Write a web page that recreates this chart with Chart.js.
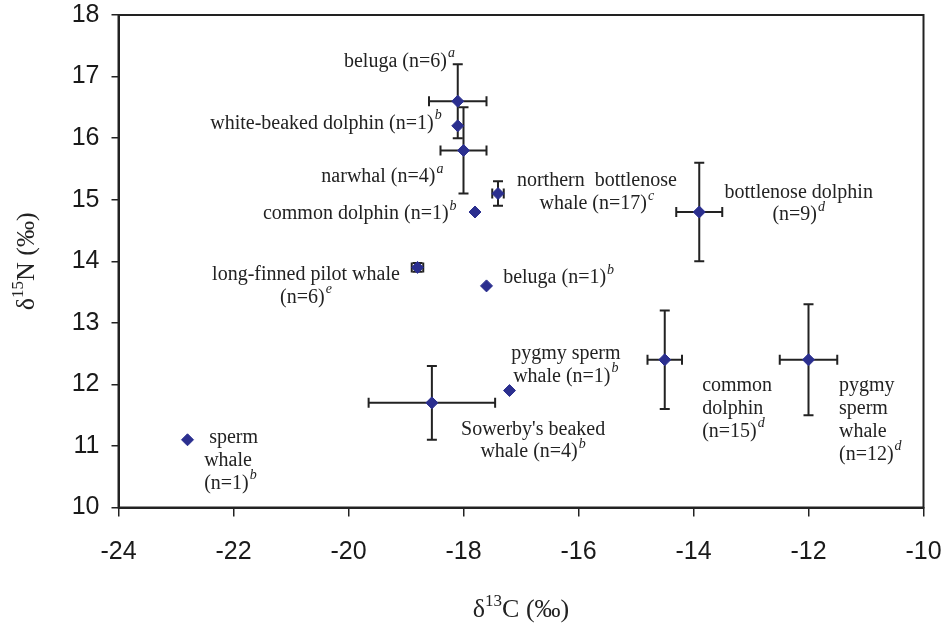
<!DOCTYPE html>
<html>
<head>
<meta charset="utf-8">
<script src="https://cdn.jsdelivr.net/npm/chart.js@4.4.1/dist/chart.umd.min.js"></script>
<style>
  body { margin: 0; background: #fff; }
  canvas { display: block; }
</style>
</head>
<body>
<canvas id="isoChart" width="945" height="623"></canvas>
<script>
// species means and SD
var species = ['beluga (n=6)', 'white-beaked dolphin (n=1)', 'narwhal (n=4)', 'northern bottlenose whale (n=17)',
               'common dolphin (n=1)', 'long-finned pilot whale (n=6)', 'beluga (n=1)', "Sowerby's beaked whale (n=4)",
               'pygmy sperm whale (n=1)', 'bottlenose dolphin (n=9)', 'common dolphin (n=15)', 'pygmy sperm whale (n=12)',
               'sperm whale (n=1)'];
var d13C = [-18.1, -18.1, -18.0, -17.4, -17.8, -18.8, -17.6, -18.55, -17.2, -13.9, -14.5, -12.0, -22.8];
var d15N = [16.6, 16.2, 15.8, 15.1, 14.8, 13.9, 13.6, 11.7, 11.9, 14.8, 12.4, 12.4, 11.1];
var sdC  = [0.5, 0, 0.4, 0.1, 0, 0.1, 0, 1.1, 0, 0.4, 0.3, 0.5, 0];
var sdN  = [0.6, 0, 0.7, 0.2, 0, 0.07, 0, 0.6, 0, 0.8, 0.8, 0.9, 0];
var xTicks = [-24, -22, -20, -18, -16, -14, -12, -10];
var yTicks = [10, 11, 12, 13, 14, 15, 16, 17, 18];

// text labels beside the points (anchor in data units, first line centre)
var notes = [
  { x: -18.15, y: 17.24, align: 'right',  lines: [['beluga (n=6)', 'a']] },
  { x: -18.38, y: 16.24, align: 'right',  lines: [['white-beaked dolphin (n=1)', 'b']] },
  { x: -18.35, y: 15.37, align: 'right',  lines: [['narwhal (n=4)', 'a']] },
  { x: -18.12, y: 14.77, align: 'right',  lines: [['common dolphin (n=1)', 'b']] },
  { x: -20.74, y: 13.78, align: 'center', lines: [['long-finned pilot whale', ''], ['(n=6)', 'e']] },
  { x: -17.31, y: 13.73, align: 'left',   lines: [['beluga (n=1)', 'b']] },
  { x: -15.68, y: 15.30, align: 'center', lines: [['northern  bottlenose', ''], ['whale (n=17)', 'c']] },
  { x: -12.17, y: 15.12, align: 'center', lines: [['bottlenose dolphin', ''], ['(n=9)', 'd']] },
  { x: -16.22, y: 12.50, align: 'center', lines: [['pygmy sperm', ''], ['whale (n=1)', 'b']] },
  { x: -16.79, y: 11.27, align: 'center', lines: [["Sowerby's beaked", ''], ['whale (n=4)', 'b']] },
  { x: -13.85, y: 11.97, align: 'left',   lines: [['common', ''], ['dolphin', ''], ['(n=15)', 'd']] },
  { x: -11.47, y: 11.97, align: 'left',   lines: [['pygmy', ''], ['sperm', ''], ['whale', ''], ['(n=12)', 'd']] },
  { x: -22.51, y: 11.13, align: 'left',   lines: [[' sperm', ''], ['whale', ''], ['(n=1)', 'b']] }
];

var ink = '#222222';
var serif = '"Liberation Serif", "Times New Roman", serif';

var points = [];
for (let i = 0; i < species.length; i++) {
  points.push({ x: d13C[i], y: d15N[i] });
}

var errorBars = {
  id: 'errorBars',
  beforeDatasetsDraw(chart) {
    var ctx = chart.ctx, xs = chart.scales.x, ys = chart.scales.y;
    var cap = 5;
    ctx.save();
    ctx.strokeStyle = ink;
    ctx.lineWidth = 2;
    for (let i = 0; i < species.length; i++) {
      var cx = xs.getPixelForValue(d13C[i]);
      var cy = ys.getPixelForValue(d15N[i]);
      if (sdC[i] > 0) {
        var x0 = xs.getPixelForValue(d13C[i] - sdC[i]);
        var x1 = xs.getPixelForValue(d13C[i] + sdC[i]);
        ctx.beginPath();
        ctx.moveTo(x0, cy); ctx.lineTo(x1, cy);
        ctx.moveTo(x0, cy - cap); ctx.lineTo(x0, cy + cap);
        ctx.moveTo(x1, cy - cap); ctx.lineTo(x1, cy + cap);
        ctx.stroke();
      }
      if (sdN[i] > 0) {
        var y0 = ys.getPixelForValue(d15N[i] - sdN[i]);
        var y1 = ys.getPixelForValue(d15N[i] + sdN[i]);
        ctx.beginPath();
        ctx.moveTo(cx, y0); ctx.lineTo(cx, y1);
        ctx.moveTo(cx - cap, y0); ctx.lineTo(cx + cap, y0);
        ctx.moveTo(cx - cap, y1); ctx.lineTo(cx + cap, y1);
        ctx.stroke();
      }
    }
    ctx.restore();
  },
  afterDraw(chart) {
    var ctx = chart.ctx, xs = chart.scales.x, ys = chart.scales.y, a = chart.chartArea;
    ctx.save();
    // frame
    ctx.strokeStyle = ink;
    ctx.lineWidth = 2;
    ctx.strokeRect(a.left, a.top, a.right - a.left, a.bottom - a.top);

    // point labels
    ctx.fillStyle = ink;
    ctx.textBaseline = 'middle';
    var lineGap = 22.7;
    notes.forEach(function (n) {
      var px = xs.getPixelForValue(n.x);
      var py = ys.getPixelForValue(n.y);
      n.lines.forEach(function (ln, k) {
        ctx.font = '20px ' + serif;
        var w1 = ctx.measureText(ln[0]).width;
        ctx.font = 'italic 14px ' + serif;
        var w2 = ln[1] ? ctx.measureText(ln[1]).width + 1 : 0;
        var w = w1 + w2;
        var left = n.align === 'left' ? px : n.align === 'right' ? px - w : px - w / 2;
        var y = py + k * lineGap;
        ctx.textAlign = 'left';
        ctx.font = '20px ' + serif;
        ctx.fillText(ln[0], left, y);
        if (ln[1]) {
          ctx.font = 'italic 14px ' + serif;
          ctx.fillText(ln[1], left + w1 + 1, y - 8);
        }
      });
    });

    // axis titles with superscripts
    function title(cx, cy, rot, sup) {
      ctx.save();
      ctx.translate(cx, cy);
      ctx.rotate(rot);
      ctx.font = '26px ' + serif;
      var wA = ctx.measureText('\u03B4').width;
      var wC = ctx.measureText(sup[1]).width;
      ctx.font = '17px ' + serif;
      var wB = ctx.measureText(sup[0]).width;
      var x = -(wA + wB + wC) / 2;
      ctx.textAlign = 'left';
      ctx.textBaseline = 'middle';
      ctx.font = '26px ' + serif;
      ctx.fillText('\u03B4', x, 0);
      ctx.font = '17px ' + serif;
      ctx.fillText(sup[0], x + wA, -8);
      ctx.font = '26px ' + serif;
      ctx.fillText(sup[1], x + wA + wB, 0);
      ctx.restore();
    }
    title((a.left + a.right) / 2, 610, 0, ['13', 'C (\u2030)']);
    title(27, (a.top + a.bottom) / 2, -Math.PI / 2, ['15', 'N (\u2030)']);
    ctx.restore();
  }
};

var ctx = document.getElementById('isoChart').getContext('2d');

var options = {
  responsive: false,
  maintainAspectRatio: false,
  animation: false,
  layout: { padding: { top: 15, right: 21.5, left: 0, bottom: 0 } },
  plugins: { legend: { display: false }, tooltip: { enabled: false } },
  scales: {
    x: {
      type: 'linear',
      min: -24, max: -10,
      afterBuildTicks: function (s) { s.ticks = xTicks.map(v => ({ value: v })); },
      afterFit: function (s) { s.height = 115.5; s.paddingLeft = 0; s.paddingRight = 0; },
      grid: { drawOnChartArea: false, drawTicks: true, tickLength: 9, color: ink, lineWidth: 1.5 },
      border: { display: true, color: ink, width: 2 },
      ticks: { color: '#1a1a1a', padding: 21, font: { family: '"Liberation Sans", Arial, sans-serif', size: 25 } }
    },
    y: {
      type: 'linear',
      min: 10, max: 18,
      afterBuildTicks: function (s) { s.ticks = yTicks.map(v => ({ value: v })); },
      afterFit: function (s) { s.width = 118.5; s.paddingTop = 0; s.paddingBottom = 0; },
      grid: { drawOnChartArea: false, drawTicks: true, tickLength: 7, color: ink, lineWidth: 1.5 },
      border: { display: true, color: ink, width: 2 },
      ticks: { color: '#1a1a1a', padding: 12, font: { family: '"Liberation Sans", Arial, sans-serif', size: 25 } }
    }
  }
};

new Chart(ctx, {
  type: 'scatter',
  data: {
    datasets: [{
      label: 'species',
      data: points,
      pointStyle: 'rectRot',
      pointRadius: 6,
      pointBorderWidth: 1,
      backgroundColor: '#2B2F8F',
      borderColor: '#2B2F8F'
    }]
  },
  options: options,
  plugins: [errorBars]
});
</script>
</body>
</html>
